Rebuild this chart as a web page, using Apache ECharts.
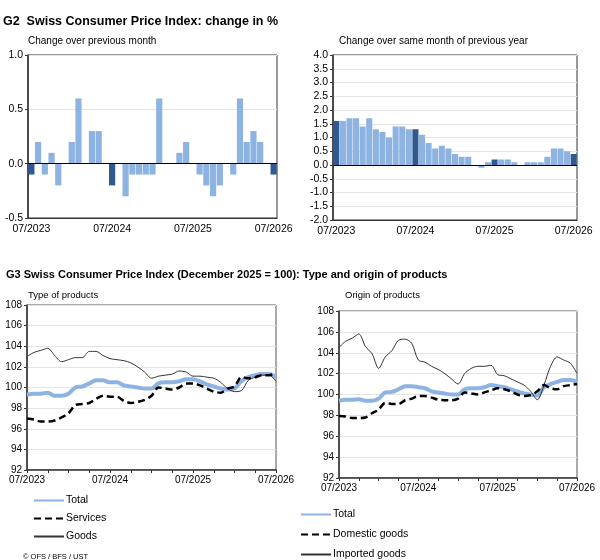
<!DOCTYPE html>
<html>
<head>
<meta charset="utf-8">
<script src="https://cdn.jsdelivr.net/npm/echarts@6/dist/echarts.min.js"></script>
<style>
  html, body { margin: 0; padding: 0; background: #fff; }
  #chart { width: 600px; height: 560px; }
</style>
</head>
<body>
<div id="chart"></div>
<script>
const months = [
    "07/2023", "08/2023", "09/2023", "10/2023", "11/2023", "12/2023",
    "01/2024", "02/2024", "03/2024", "04/2024", "05/2024", "06/2024",
    "07/2024", "08/2024", "09/2024", "10/2024", "11/2024", "12/2024",
    "01/2025", "02/2025", "03/2025", "04/2025", "05/2025", "06/2025",
    "07/2025", "08/2025", "09/2025", "10/2025", "11/2025", "12/2025",
    "01/2026", "02/2026", "03/2026", "04/2026", "05/2026", "06/2026",
    "07/2026"
];

// G2 change in %
const monthlyChange = [
    -0.1, 0.2, -0.1, 0.1, -0.2, 0.0, 0.2, 0.6, 0.0, 0.3, 0.3, 0.0,
    -0.2, 0.0, -0.3, -0.1, -0.1, -0.1, -0.1, 0.6, 0.0, 0.0, 0.1, 0.2,
    0.0, -0.1, -0.2, -0.3, -0.2, 0.0, -0.1, 0.6, 0.2, 0.3, 0.2, 0.0,
    -0.1
];
const yearlyChange = [
    1.6, 1.6, 1.7, 1.7, 1.4, 1.7, 1.3, 1.2, 1.0, 1.4, 1.4, 1.3,
    1.3, 1.1, 0.8, 0.6, 0.7, 0.6, 0.4, 0.3, 0.3, 0.0, -0.1, 0.1,
    0.2, 0.2, 0.2, 0.1, 0.0, 0.1, 0.1, 0.1, 0.3, 0.6, 0.6, 0.5,
    0.4
];

// G3 index, December 2025 = 100
const total = [
    99.3, 99.4, 99.4, 99.5, 99.2, 99.2, 99.4, 100.0, 100.1, 100.4, 100.7, 100.7,
    100.5, 100.5, 100.2, 100.1, 100.0, 99.9, 99.9, 100.4, 100.5, 100.5, 100.6, 100.8,
    100.8, 100.6, 100.3, 100.1, 99.9, 99.8, 99.9, 100.6, 101.0, 101.2, 101.3, 101.3,
    101.0
];
const services = [
    97.0, 96.9, 96.7, 96.7, 96.8, 97.1, 97.5, 98.3, 98.4, 98.5, 98.9, 99.2,
    99.1, 99.1, 98.7, 98.5, 98.6, 98.8, 99.2, 100.0, 99.9, 99.8, 100.0, 100.4,
    100.4, 100.2, 99.9, 99.6, 99.5, 99.9, 100.1, 101.0, 100.9, 101.0, 101.2, 101.2,
    101.4
];
const goods = [
    103.0, 103.4, 103.6, 103.8, 103.1, 102.5, 102.7, 102.9, 102.9, 103.5, 103.5, 103.1,
    102.8, 102.7, 102.6, 102.4, 102.0, 101.5, 100.9, 101.1, 101.2, 101.3, 101.6, 101.5,
    101.1, 101.1, 101.0, 100.9, 100.5, 99.9, 99.6, 99.7, 100.7, 101.0, 101.2, 101.2,
    100.6
];
const totalOrigin = [
    99.4, 99.5, 99.5, 99.55, 99.4, 99.4, 99.6, 100.2, 100.25, 100.5, 100.8, 100.8,
    100.7, 100.6, 100.3, 100.2, 100.1, 100.0, 100.0, 100.5, 100.6, 100.6, 100.7, 100.9,
    100.8, 100.7, 100.5, 100.3, 100.1, 100.0, 99.9, 100.7, 101.0, 101.2, 101.4, 101.4,
    101.2
];
const domesticGoods = [
    97.95, 97.9, 97.75, 97.75, 97.8, 98.2, 98.55, 99.2, 99.1, 99.1, 99.45, 99.6,
    99.85, 99.85, 99.7, 99.5, 99.45, 99.45, 99.6, 100.2, 100.1, 100.0, 100.2, 100.4,
    100.6, 100.5, 100.3, 100.0, 99.85, 99.95, 100.3, 100.9, 100.6, 100.5, 100.8, 100.9,
    101.0
];
const importedGoods = [
    104.5, 105.1, 105.4, 105.8, 104.6, 103.9, 102.5, 103.6, 104.2, 105.2, 105.3, 104.9,
    103.3, 103.1, 102.7, 102.4, 102.0, 101.5, 101.0, 102.0, 102.5, 102.7, 102.7, 102.8,
    101.9, 101.8, 101.5, 101.2, 100.9, 100.3, 99.5, 100.9, 102.7, 103.6, 103.3, 103.0,
    102.0
];

const LIGHT = "#8db3e2";
const DARK = "#2f5a8f";
const FONT = "Liberation Sans, Arial, sans-serif";

const isJuly = (v) => v.startsWith("07/");

function barData(values) {
    return values.map((v, i) => ({
        value: v,
        itemStyle: { color: isJuly(months[i]) ? DARK : LIGHT }
    }));
}

function barXAxis(gridIndex) {
    return {
        type: "category",
        gridIndex,
        data: months,
        boundaryGap: true,
        axisLine: { show: true, onZero: false, lineStyle: { color: "#333" } },
        axisTick: { show: false },
        axisLabel: {
            interval: (i, v) => isJuly(v),
            color: "#000", fontFamily: FONT, fontSize: 10.5, margin: 6
        }
    };
}

function lineXAxis(gridIndex) {
    return {
        type: "category",
        gridIndex,
        data: months,
        boundaryGap: false,
        axisLine: { show: true, onZero: false, lineStyle: { color: "#333", width: 1.5 } },
        axisTick: { show: true, interval: (i) => i % 3 === 0, length: 3, lineStyle: { color: "#333" } },
        axisLabel: {
            interval: (i, v) => isJuly(v),
            color: "#000", fontFamily: FONT, fontSize: 10, margin: 5
        }
    };
}

function valueYAxis(gridIndex, min, max, interval, digits, size) {
    return {
        type: "value",
        gridIndex, min, max, interval,
        axisLine: { show: true, lineStyle: { color: "#333", width: 1.5 } },
        axisTick: { show: true, length: 3, lineStyle: { color: "#333" } },
        splitLine: { show: true, lineStyle: { color: "#e4e4e4" } },
        axisLabel: {
            formatter: (v) => v.toFixed(digits),
            color: "#000", fontFamily: FONT, fontSize: size, margin: 5
        }
    };
}

const zeroLine = {
    silent: true,
    symbol: "none",
    label: { show: false },
    lineStyle: { color: "#000", type: "solid", width: 1.2 },
    data: [{ yAxis: 0 }]
};

function lineSeries(name, data, xi, kind) {
    const styles = {
        total: { color: LIGHT, width: 4, type: "solid" },
        dashed: { color: "#000", width: 2.5, type: [7, 4] },
        thin: { color: "#333", width: 1, type: "solid" }
    };
    return {
        name, type: "line", data,
        xAxisIndex: xi, yAxisIndex: xi,
        showSymbol: false, symbol: "none", smooth: 0.3,
        itemStyle: { color: styles[kind].color },
        lineStyle: styles[kind],
        z: kind === "total" ? 2 : 3
    };
}

function legend(names, left, top, gap) {
    return {
        orient: "vertical", left, top, padding: 0, itemGap: gap,
        itemWidth: 30, itemHeight: 10,
        itemStyle: { opacity: 0 },
        textStyle: { fontFamily: FONT, fontSize: 10.5, color: "#000", padding: [0, 0, 0, -3] },
        data: names
    };
}

function text(t, x, y, size, bold) {
    return {
        type: "text", left: x, top: y,
        style: { text: t, fontSize: size, fontWeight: bold ? "bold" : "normal", fontFamily: FONT, fill: "#000" }
    };
}

const chart = echarts.init(document.getElementById("chart"));

chart.setOption({
    animation: false,
    backgroundColor: "#fff",
    grid: [
        { left: 28, top: 55, width: 249, height: 163, show: true, borderColor: "#333", borderWidth: 1 },
        { left: 333, top: 55, width: 244, height: 165, show: true, borderColor: "#333", borderWidth: 1 },
        { left: 27, top: 305, width: 249, height: 165, show: true, borderColor: "#555", borderWidth: 1 },
        { left: 339, top: 311, width: 238, height: 167, show: true, borderColor: "#555", borderWidth: 1 }
    ],
    xAxis: [barXAxis(0), barXAxis(1), lineXAxis(2), lineXAxis(3)],
    yAxis: [
        valueYAxis(0, -0.5, 1.0, 0.5, 1, 10.5),
        valueYAxis(1, -2.0, 4.0, 0.5, 1, 10.5),
        valueYAxis(2, 92, 108, 2, 0, 10),
        valueYAxis(3, 92, 108, 2, 0, 10)
    ],
    legend: [
        legend(["Total", "Services", "Goods"], 33, 495, 7),
        legend(["Total", "Domestic goods", "Imported goods"], 300, 509, 9)
    ],
    series: [
        {
            type: "bar", data: barData(monthlyChange), xAxisIndex: 0, yAxisIndex: 0,
            barCategoryGap: "8%", markLine: zeroLine
        },
        {
            type: "bar", data: barData(yearlyChange), xAxisIndex: 1, yAxisIndex: 1,
            barCategoryGap: "8%", markLine: zeroLine
        },
        lineSeries("Goods", goods, 2, "thin"),
        lineSeries("Total", total, 2, "total"),
        lineSeries("Services", services, 2, "dashed"),
        lineSeries("Imported goods", importedGoods, 3, "thin"),
        lineSeries("Total", totalOrigin, 3, "total"),
        lineSeries("Domestic goods", domesticGoods, 3, "dashed")
    ],
    graphic: [
        text("G2  Swiss Consumer Price Index: change in %", 3, 15, 12.5, true),
        text("Change over previous month", 28, 36, 10),
        text("Change over same month of previous year", 339, 36, 10),
        text("G3 Swiss Consumer Price Index (December 2025 = 100): Type and origin of products", 6, 269, 11, true),
        text("Type of products", 28, 290, 9.5),
        text("Origin of products", 345, 290, 9.5),
        text("© OFS / BFS / UST", 23, 553, 7.5)
    ]
});
</script>
</body>
</html>
